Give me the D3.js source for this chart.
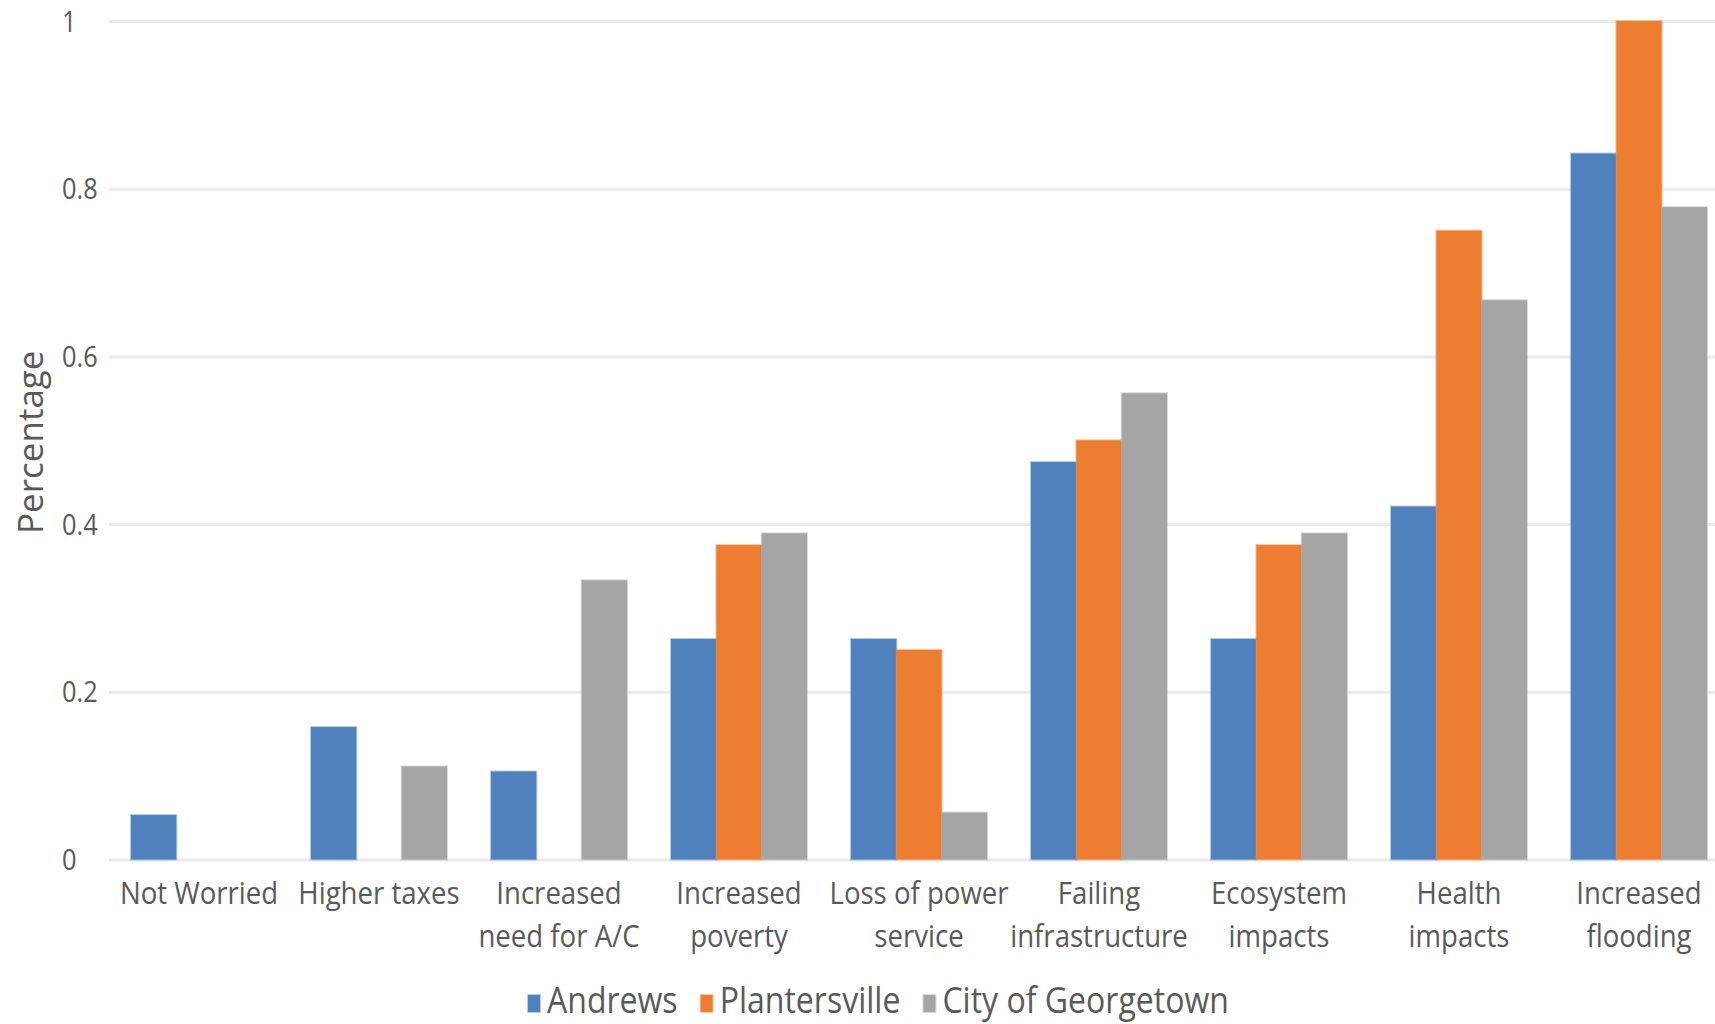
<!DOCTYPE html>
<html>
<head>
<meta charset="utf-8">
<script src="https://cdn.jsdelivr.net/npm/d3@7"></script>
<style>
  html, body { margin: 0; padding: 0; background: #ffffff; }
  svg { display: block; font-family: "Open Sans", "Noto Sans", sans-serif; }
</style>
</head>
<body>
<svg id="chart" width="1715" height="1024"></svg>
<script>
// Concerns about climate change, share of respondents by community
const categories = [
  "Not Worried", "Higher taxes", "Increased need for A/C", "Increased poverty",
  "Loss of power service", "Failing infrastructure", "Ecosystem impacts",
  "Health impacts", "Increased flooding"
];
const seriesNames = ["Andrews", "Plantersville", "City of Georgetown"];
const andrews       = [0.053, 0.158, 0.105, 0.263, 0.263, 0.474, 0.263, 0.421, 0.842];
const plantersville = [0,     0,     0,     0.375, 0.25,  0.5,   0.375, 0.75,  1];
const georgetown    = [0,     0.111, 0.333, 0.389, 0.056, 0.556, 0.389, 0.667, 0.778];
const yTicks = [0, 0.2, 0.4, 0.6, 0.8, 1];
const seriesColors = ["#4f81bd", "#ed7d31", "#a5a5a5"];
const yTitle = "Percentage";

const seriesValues = [andrews, plantersville, georgetown];
const rows = categories.map((c, i) => ({
  category: c,
  values: seriesNames.map((s, j) => ({ series: s, value: seriesValues[j][i] }))
}));

const svg = d3.select("#chart");
const textColor = "#595959";
const squeeze = 0.89;   // glyphs are drawn slightly condensed

const plot = { left: 109, right: 1729, top: 21, bottom: 859.5 };

const x0 = d3.scaleBand()
  .domain(categories)
  .range([plot.left, plot.right])
  .paddingInner(44 / 180)
  .paddingOuter(22 / 180);

const x1 = d3.scaleBand()
  .domain(seriesNames)
  .range([0, x0.bandwidth()]);

const y = d3.scaleLinear()
  .domain([0, 1])
  .range([plot.bottom, plot.top]);

const color = d3.scaleOrdinal().domain(seriesNames).range(seriesColors);

// condensed text helper: a group placed at (x, y) holding a horizontally squeezed label
function label(parent, x, yPos, str, size, anchor) {
  return parent.append("g")
    .attr("transform", `translate(${x},${yPos}) scale(${squeeze},1)`)
    .append("text")
    .attr("text-anchor", anchor)
    .attr("font-size", size)
    .attr("fill", textColor)
    .text(str);
}

// horizontal gridlines
const grid = svg.append("g")
  .attr("transform", `translate(${plot.left},0)`)
  .call(d3.axisLeft(y).tickValues(yTicks).tickSize(-(plot.right - plot.left)).tickFormat(""));
grid.select(".domain").remove();
grid.selectAll(".tick line")
  .attr("stroke", "#eaeaea")
  .attr("stroke-width", 3);

// y tick labels, flush left
const yLab = svg.append("g");
yTicks.forEach(t => {
  label(yLab, 62, y(t), d3.format("~g")(t), 28.5, "start").attr("dy", "0.37em");
});

// y axis title
svg.append("text")
  .attr("transform", `translate(43,${(plot.top + plot.bottom) / 2 + 2}) rotate(-90)`)
  .attr("text-anchor", "middle")
  .attr("font-size", 35)
  .attr("fill", textColor)
  .text(yTitle);

// bars
const groups = svg.append("g")
  .selectAll("g")
  .data(rows)
  .join("g")
  .attr("transform", d => `translate(${x0(d.category)},0)`);

groups.selectAll("rect")
  .data(d => d.values.filter(v => v.value > 0))
  .join("rect")
  .attr("x", d => x1(d.series))
  .attr("y", d => y(d.value))
  .attr("width", x1.bandwidth())
  .attr("height", d => y(0) - y(d.value))
  .attr("fill", d => color(d.series))
  .attr("stroke", d => color(d.series))
  .attr("stroke-opacity", 0.4)
  .attr("stroke-width", 2);

// category labels, word-wrapped into the band
const catLab = svg.append("g");
const measure = svg.append("text").attr("font-size", 31).attr("visibility", "hidden");
function textWidth(s) { measure.text(s); return measure.node().getComputedTextLength() * squeeze; }

categories.forEach(c => {
  const words = c.split(" ");
  const lines = [];
  let cur = "";
  words.forEach(w => {
    const trial = cur ? cur + " " + w : w;
    if (cur && textWidth(trial) > x0.step()) { lines.push(cur); cur = w; }
    else cur = trial;
  });
  lines.push(cur);
  const cx = x0(c) + x0.bandwidth() / 2;
  lines.forEach((ln, k) => {
    label(catLab, cx, plot.bottom + 44.5 + k * 43, ln, 31, "middle");
  });
});
measure.remove();

// legend
const legend = svg.append("g");
let lx = 528;
const legendBase = 1013;
seriesNames.forEach(s => {
  legend.append("rect")
    .attr("x", lx).attr("y", 995)
    .attr("width", 12).attr("height", 17)
    .attr("fill", color(s))
    .attr("stroke", color(s)).attr("stroke-opacity", 0.4).attr("stroke-width", 2);
  const t = label(legend, lx + 19, legendBase, s, 36, "start");
  const w = t.node().getComputedTextLength() * squeeze;
  lx = lx + 19 + w + 23;
});
</script>
</body>
</html>
